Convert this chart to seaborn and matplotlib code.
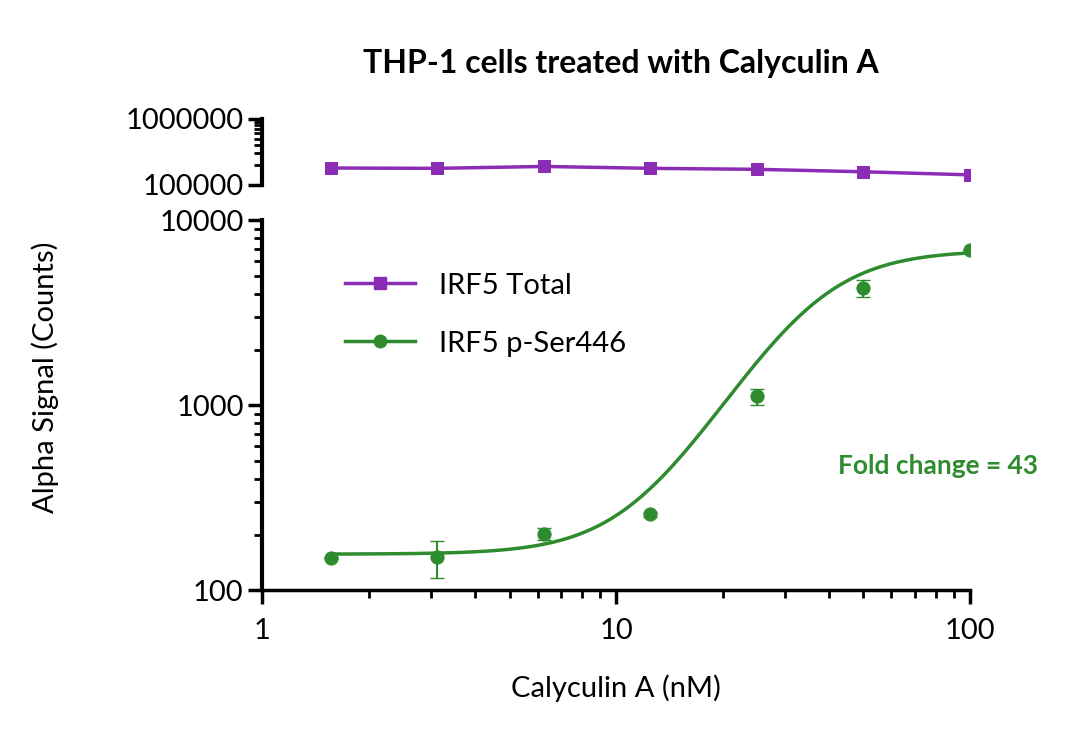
import numpy as np
import pandas as pd
import matplotlib
matplotlib.use("Agg")
import matplotlib.pyplot as plt
import seaborn as sns
from matplotlib.ticker import LogLocator, NullFormatter, FixedLocator, FixedFormatter

conc = [1.5625, 3.125, 6.25, 12.5, 25, 50, 100]
total = [180000, 178000, 190000, 178000, 172000, 158000, 142000]
phos = [149, 151, 203, 258, 1120, 4300, 6900]
phos_err = [0, 35, 15, 8, 110, 450, 0]
# 4PL fit parameters (bottom, top, EC50, hill)
fit = (157, 6900, 36, 3.3)

plt.rcParams["font.family"] = "Lato"
purple = "#8B2CB5"
green = "#2E8B2E"

fig = plt.figure(figsize=(10.8, 7.55), dpi=100)
ax_top = fig.add_axes([0.243, 0.755, 0.655, 0.088])
ax = fig.add_axes([0.243, 0.218, 0.655, 0.49])

df_total = pd.DataFrame({"x": conc, "y": total})
df_phos = pd.DataFrame({"x": conc, "y": phos})

sns.lineplot(data=df_total, x="x", y="y", ax=ax_top, color=purple, marker="s",
             markersize=9, markeredgecolor=purple, linewidth=2.5)
sns.scatterplot(data=df_phos, x="x", y="y", ax=ax, color=green, s=90, edgecolor=green, zorder=3)
ax.errorbar(conc, phos, yerr=phos_err, fmt="none", ecolor=green, capsize=5, elinewidth=1.5)

xf = np.logspace(np.log10(1.5625), 2, 300)
b, t, ec, h = fit
ax.plot(xf, b + (t - b) / (1 + (ec / xf) ** h), color=green, linewidth=2.5)

for a in (ax, ax_top):
    a.set_xscale("log")
    a.set_yscale("log")
    a.set_xlim(1, 100)
    a.set_xlabel("")
    a.set_ylabel("")
    for s in ("top", "right"):
        a.spines[s].set_visible(False)
    a.spines["left"].set_linewidth(3)
    a.tick_params(axis="both", labelsize=21, width=2.5, length=10, colors="black")
    a.tick_params(which="minor", width=2, length=6)

ax_top.set_ylim(100000, 1000000)
ax_top.spines["bottom"].set_visible(False)
ax_top.tick_params(axis="x", which="both", bottom=False, labelbottom=False)
ax_top.yaxis.set_major_locator(FixedLocator([100000, 1000000]))
ax_top.yaxis.set_major_formatter(FixedFormatter(["100000", "1000000"]))
ax_top.yaxis.set_minor_formatter(NullFormatter())

ax.set_ylim(100, 10000)
ax.spines["bottom"].set_linewidth(2.5)
ax.yaxis.set_major_locator(FixedLocator([100, 1000, 10000]))
ax.yaxis.set_major_formatter(FixedFormatter(["100", "1000", "10000"]))
ax.yaxis.set_minor_formatter(NullFormatter())
ax.xaxis.set_major_locator(FixedLocator([1, 10, 100]))
ax.xaxis.set_major_formatter(FixedFormatter(["1", "10", "100"]))
ax.xaxis.set_minor_locator(LogLocator(subs=np.arange(2, 10)))
ax.xaxis.set_minor_formatter(NullFormatter())
ax.tick_params(axis="x", pad=10)

ax.set_xlabel("Calyculin A (nM)", fontsize=21, labelpad=22)
fig.text(0.042, 0.5, "Alpha Signal (Counts)", rotation=90, fontsize=21, va="center", ha="center")
fig.suptitle("THP-1 cells treated with Calyculin A", fontsize=23, fontweight="bold", x=0.575, y=0.935)
ax.text(0.955, 0.315, "Fold change = 43", transform=ax.transAxes, color=green,
        fontsize=19, fontweight="bold", ha="center")

h1, = ax.plot([], [], color=purple, marker="s", markersize=9, linewidth=2.5)
h2, = ax.plot([], [], color=green, marker="o", markersize=9, linewidth=2.5)
ax.legend([h1, h2], ["IRF5 Total", "IRF5 p-Ser446"], loc="upper left",
          bbox_to_anchor=(0.08, 0.93), frameon=False, fontsize=21, labelspacing=1.1,
          handlelength=2.4)

fig.savefig("out.png", dpi=100)
